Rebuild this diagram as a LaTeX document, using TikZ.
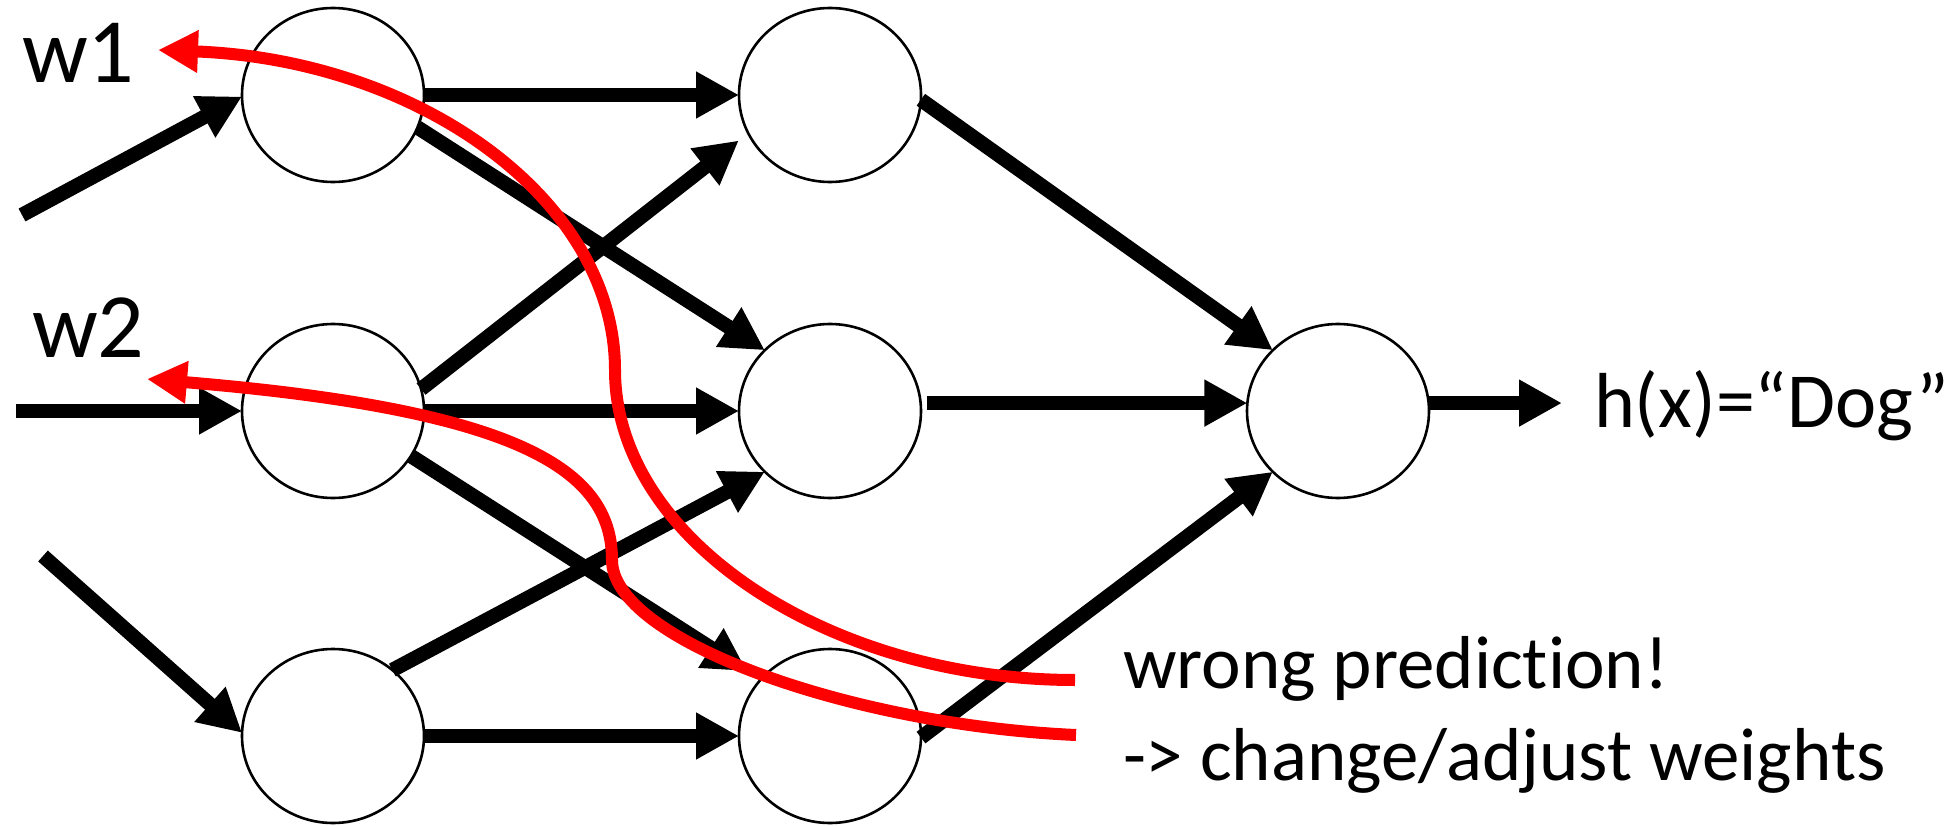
\documentclass[tikz,border=0pt]{standalone}
\usepackage{fontspec}
\setmainfont{Carlito}[Ligatures=NoCommon]
\usetikzlibrary{arrows.meta,shapes.geometric}
\begin{document}
\begin{tikzpicture}[x=1pt,y=-1pt,
  neuron/.style={ellipse, draw=black, line width=2.6pt, fill=white,
    minimum width=182pt, minimum height=174pt, inner sep=0pt, outer sep=0pt},
  conn/.style={draw=black, line width=14.5pt, -{Triangle[length=43pt,width=44pt]}},
  back/.style={draw=red, line width=12pt, -{Triangle[length=40pt,width=40pt]}},
  lbl/.style={anchor=base west, inner sep=0pt, outer sep=0pt, text=black},
  big/.style={font=\fontsize{92}{110}\selectfont},
  mid/.style={font=\fontsize{78}{94}\selectfont},
  note/.style={font=\fontsize{75}{92}\selectfont}]
\useasboundingbox (0,0) rectangle (1954,826);

% neurons
\node[neuron] (a1) at (333,95) {};
\node[neuron] (a2) at (333,411) {};
\node[neuron] (a3) at (333,736) {};
\node[neuron] (b1) at (830,95) {};
\node[neuron] (b2) at (830,411) {};
\node[neuron] (b3) at (830,736) {};
\node[neuron] (c) at (1338,411) {};

% labels
\node[lbl, big] (w1) at (22,83) {w1};
\node[lbl, big] (w2) at (32,357) {w2};
\node[lbl, mid] (hx) at (1594,427) {h(x)=“Dog”};
\node[lbl, note] (msg1) at (1123,688) {wrong prediction!};
\node[lbl, note] (msg2) at (1123,780) {-> change/adjust weights};

% inputs
\coordinate (in1) at (22,215);
\coordinate (in2) at (16,411);
\coordinate (in3) at (43,556);
\draw[conn] (in1) -- (a1.181);
\draw[conn] (in2) -- (a2.west);
\draw[conn] (in3) -- (a3.178);

% first layer to second layer
\draw[conn] (a1.east) -- (b1.west);
\draw[conn] (a1.-21) -- (b2.137);
\draw[conn, shorten >=12pt] (a2.14) -- (b1.205);
\draw[conn] (a2.east) -- (b2.west);
\draw[conn, shorten >=16pt] (a2.-30) -- (b3.141);
\draw[conn] (a3.48) -- (b2.223);
\draw[conn] (a3.east) -- (b3.west);

% second layer to output
\draw[conn] (b1.-3) -- (c.137);
\draw[conn, shorten <=6pt] (b2.5) -- (c.175);
\draw[conn] (b3.-1) -- (c.223);

% output
\coordinate (hxin) at ([xshift=-32pt]hx.west);
\draw[conn] (c.5) -- (hxin |- c.5);

% weight updates sent backwards
\coordinate (r1end) at (1075,680);
\coordinate (r1tip) at (158,50);
\coordinate (r2end) at (1076,735);
\coordinate (r2tip) at (147,379);
\draw[back] (r1end) .. controls (830,680) and (615,540) .. (615,370)
  .. controls (615,200) and (420,60) .. (r1tip);
\draw[back] (r2end) .. controls (850,725) and (612,640) .. (612,560)
  .. controls (612,470) and (520,410) .. (r2tip);
\end{tikzpicture}
\end{document}
